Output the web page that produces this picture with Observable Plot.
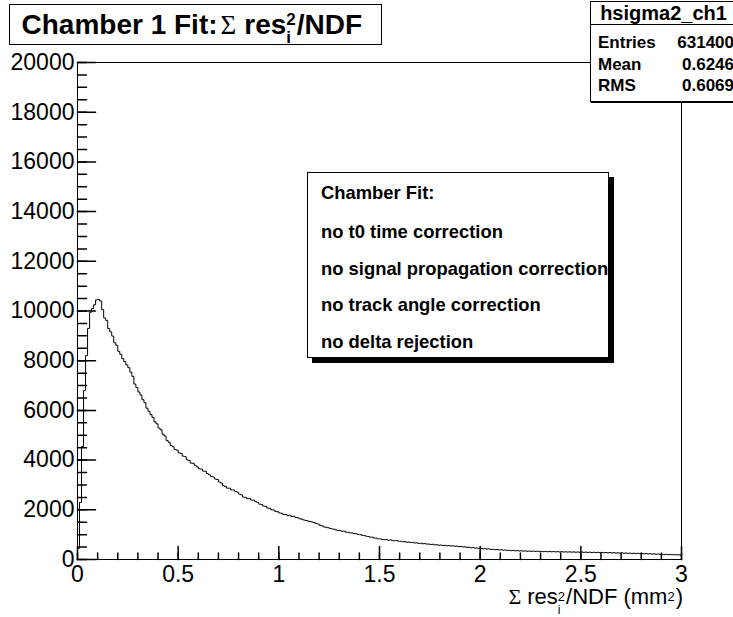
<!DOCTYPE html>
<html><head><meta charset="utf-8">
<script src="https://cdn.jsdelivr.net/npm/d3@7"></script>
<script src="https://cdn.jsdelivr.net/npm/@observablehq/plot@0.6"></script>
<style>
html,body{margin:0;padding:0;background:#fff;overflow:hidden;}
#wrap{position:relative;width:733px;height:617px;overflow:hidden;font-family:"Liberation Sans",Arial,Helvetica,sans-serif;color:#000;}
#wrap svg{position:absolute;left:0;top:0;}
.box{position:absolute;background:#fff;border:1px solid #000;box-sizing:border-box;}
.abs{position:absolute;white-space:nowrap;}
</style></head><body><div id="wrap"></div>
<script>
// ---- data ----
const binWidth = 0.01;
const counts = [
450, 2300, 4550, 6800, 8200, 9300, 9950, 10100, 10250, 10450,
10460, 10400, 10050, 9720, 9620, 9290, 9160, 8990, 8720, 8620,
8380, 8260, 8080, 7960, 7830, 7720, 7540, 7370, 7060, 6920,
6740, 6620, 6430, 6310, 6090, 5970, 5830, 5720, 5540, 5460,
5290, 5220, 5040, 4970, 4790, 4720, 4590, 4540, 4430, 4400,
4290, 4270, 4160, 4140, 4010, 3980, 3880, 3870, 3790, 3730,
3650, 3640, 3560, 3550, 3460, 3410, 3340, 3320, 3240, 3220,
3120, 3080, 2970, 2940, 2870, 2870, 2800, 2800, 2740, 2710,
2630, 2600, 2510, 2500, 2450, 2450, 2390, 2390, 2330, 2300,
2230, 2210, 2150, 2140, 2070, 2060, 2000, 1990, 1930, 1920,
1870, 1860, 1810, 1810, 1770, 1780, 1730, 1740, 1690, 1680,
1640, 1620, 1590, 1570, 1550, 1530, 1510, 1490, 1450, 1430,
1380, 1360, 1310, 1300, 1280, 1250, 1230, 1220, 1190, 1170,
1165, 1135, 1140, 1100, 1095, 1070, 1068, 1040, 1038, 1005,
1000, 972, 968, 935, 928, 900, 896, 862, 858, 832,
830, 805, 795, 800, 775, 790, 765, 755, 760, 735,
735, 715, 720, 695, 705, 685, 690, 665, 672, 650,
655, 635, 640, 620, 622, 605, 612, 590, 593, 575,
582, 565, 570, 552, 562, 545, 548, 535, 538, 518,
522, 505, 510, 490, 492, 472, 478, 460, 462, 445,
448, 430, 438, 420, 426, 408, 412, 396, 402, 385,
392, 375, 382, 366, 372, 356, 366, 350, 358, 342,
352, 338, 346, 332, 342, 328, 338, 326, 334, 320,
330, 316, 326, 312, 322, 310, 320, 306, 316, 302,
314, 300, 310, 298, 308, 296, 306, 292, 304, 290,
302, 288, 298, 284, 296, 282, 292, 278, 288, 274,
286, 270, 282, 266, 278, 262, 274, 258, 270, 254,
266, 250, 262, 246, 258, 242, 254, 238, 250, 234,
244, 228, 240, 222, 234, 216, 228, 210, 222, 204,
216, 200, 210, 194, 204, 190, 198, 186, 192, 180
];
const xTicks = [0, 0.5, 1, 1.5, 2, 2.5, 3];
const yTicks = [0, 2000, 4000, 6000, 8000, 10000, 12000, 14000, 16000, 18000, 20000];
const xMinor = d3.range(0, 3.0001, 0.1).map(v => +v.toFixed(2));
const yMinor = d3.range(0, 20001, 500);
const histName = "hsigma2_ch1";
const statLabels = ["Entries", "Mean", "RMS"];
const statValues = ["631400", "0.6246", "0.6069"];
const noteLines = ["Chamber Fit:", "no t0 time correction", "no signal propagation correction", "no track angle correction", "no delta rejection"];

// ---- chart ----
const pts = counts.map((c, i) => ({x: i * binWidth, y: c}));
pts.push({x: counts.length * binWidth, y: counts[counts.length - 1]});
const tickShape = {draw(ctx, l) { ctx.moveTo(0, 0); ctx.lineTo(0, -l); }};

const chart = Plot.plot({
  width: 733, height: 617,
  marginLeft: 77, marginRight: 52, marginTop: 62, marginBottom: 58,
  x: {domain: [0, 3]},
  y: {domain: [0, 20000]},
  style: {fontFamily: "'Liberation Sans', Arial, Helvetica, sans-serif", fontSize: "23px", color: "#000", background: "transparent", overflow: "visible"},
  marks: [
    Plot.frame({stroke: "#000", strokeWidth: 1}),
    Plot.line(pts, {x: "x", y: "y", curve: "step-after", stroke: "#000", strokeWidth: 1}),
    Plot.vector(yMinor, {x: () => 0, y: d => d, length: 9, rotate: 90, anchor: "start", shape: tickShape, stroke: "#000"}),
    Plot.vector(yTicks, {x: () => 0, y: d => d, length: 18, rotate: 90, anchor: "start", shape: tickShape, stroke: "#000"}),
    Plot.vector(xMinor, {x: d => d, y: () => 0, length: 6.5, rotate: 0, anchor: "start", shape: tickShape, stroke: "#000"}),
    Plot.vector(xTicks, {x: d => d, y: () => 0, length: 13, rotate: 0, anchor: "start", shape: tickShape, stroke: "#000"}),
    Plot.axisY({ticks: yTicks, tickSize: 0, tickPadding: 3, tickFormat: d => String(d), label: null}),
    Plot.axisX({ticks: xTicks, tickSize: 0, tickPadding: 6, tickFormat: d => String(d), label: null})
  ]
});
const wrap = document.getElementById("wrap");
wrap.appendChild(chart);

// ---- overlays (text boxes) ----
function el(tag, cls, style, html) {
  const e = document.createElement(tag);
  if (cls) e.className = cls;
  if (style) e.setAttribute("style", style);
  if (html != null) e.textContent = html;
  return e;
}
const SANS = "'Liberation Sans', Arial, sans-serif";
const SERIF = "'Liberation Serif', 'DejaVu Serif', serif";
const mctx = document.createElement("canvas").getContext("2d");
function textWidth(text, fs, weight, family) {
  mctx.font = `${weight} ${fs}px ${family}`;
  return mctx.measureText(text).width;
}
// place a text piece with its baseline at y; returns its width
function piece(text, x, baseline, fs, weight, family) {
  const d = el("div", "abs",
    `left:${x}px;top:${baseline - 0.846 * fs}px;font-size:${fs}px;font-weight:${weight};font-family:${family};line-height:1;`, text);
  wrap.appendChild(d);
  return textWidth(text, fs, weight, family);
}
// lay out a sequence of pieces
function layout(items, x0, baseline, place) {
  let x = x0;
  for (const it of items) {
    if (it.gap) { x += it.gap; continue; }
    if (it.stack) {
      let mw = 0;
      for (const s of it.stack) {
        const ww = place ? piece(s.t, x, baseline + s.dy, s.fs, s.w, s.f) : textWidth(s.t, s.fs, s.w, s.f);
        mw = Math.max(mw, ww);
      }
      x += mw + (it.after || 0);
    } else {
      x += place ? piece(it.t, x, baseline, it.fs, it.w, it.f) : textWidth(it.t, it.fs, it.w, it.f);
    }
  }
  return x - x0;
}

// Title box
wrap.appendChild(el("div", "box", "left:9px;top:4px;width:373px;height:41px;"));
layout([
  {t: "Chamber 1 Fit:", fs: 28, w: "bold", f: SANS},
  {gap: 3},
  {t: "\u03A3", fs: 27, w: "normal", f: SERIF},
  {gap: 8},
  {t: "res", fs: 28, w: "bold", f: SANS},
  {stack: [{t: "2", fs: 17, w: "bold", f: SANS, dy: -10}, {t: "i", fs: 17, w: "bold", f: SANS, dy: 8}], after: 1},
  {t: "/NDF", fs: 28, w: "bold", f: SANS}
], 21.5, 35, true);

// Stats box
wrap.appendChild(el("div", "box", "left:590px;top:1px;width:147px;height:101px;box-shadow:1px 1px 0 #000;"));
wrap.appendChild(el("div", "abs", "left:590px;top:24px;width:147px;height:0;border-top:1px solid #000;"));
wrap.appendChild(el("div", "abs", "left:590px;width:147px;top:3px;text-align:center;font-size:20px;font-weight:bold;line-height:20px;", histName));
const rowY = [43, 65, 86];
statLabels.forEach((lab, i) => {
  wrap.appendChild(el("div", "abs", `left:598px;top:${rowY[i] - 10}px;font-size:17px;font-weight:bold;line-height:20px;`, lab));
  wrap.appendChild(el("div", "abs", `right:-1px;top:${rowY[i] - 10}px;font-size:17px;font-weight:bold;line-height:20px;text-align:right;`, statValues[i]));
});

// Note box
wrap.appendChild(el("div", "box", "left:307px;top:172px;width:302px;height:186px;box-shadow:5px 5px 0 #000;"));
const noteY = [193, 232, 268.5, 305, 342];
noteLines.forEach((t, i) => {
  wrap.appendChild(el("div", "abs", `left:321px;top:${noteY[i] - 10}px;font-size:18.4px;font-weight:bold;line-height:20px;`, t));
});

// X axis title (right-aligned to the frame)
const xTitle = [
  {t: "\u03A3", fs: 22, w: "normal", f: SERIF},
  {gap: 6},
  {t: "res", fs: 22, w: "normal", f: SANS},
  {stack: [{t: "2", fs: 13, w: "normal", f: SANS, dy: -4}, {t: "i", fs: 12, w: "normal", f: SANS, dy: 9}], after: 1},
  {t: "/NDF (mm", fs: 22, w: "normal", f: SANS},
  {stack: [{t: "2", fs: 13, w: "normal", f: SANS, dy: -4}], after: 1},
  {t: ")", fs: 22, w: "normal", f: SANS}
];
const xtw = layout(xTitle, 0, 0, false);
layout(xTitle, 683 - xtw, 605, true);
</script>
</body></html>
